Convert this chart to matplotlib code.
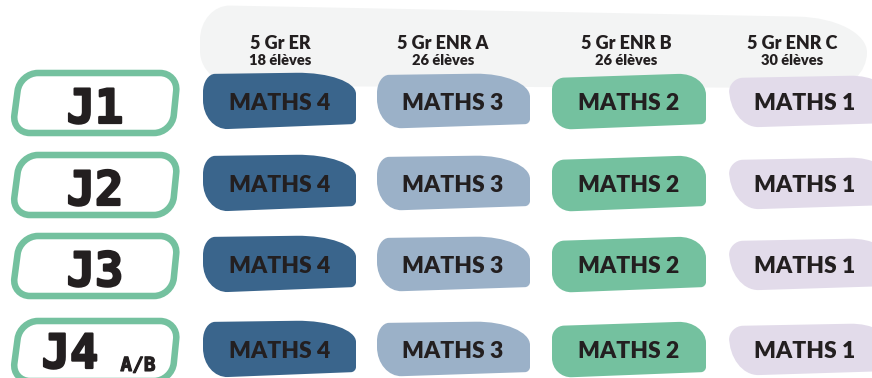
import numpy as np
import matplotlib.pyplot as plt
import matplotlib.patheffects as pe
from matplotlib.path import Path
from matplotlib.patches import PathPatch

# données du planning
jours = ['J1', 'J2', 'J3', 'J4']
jours_suffixe = ['', '', '', 'A/B']
groupes = ['5 Gr ER', '5 Gr ENR A', '5 Gr ENR B', '5 Gr ENR C']
effectifs = [18, 26, 26, 30]
cours = [
    ['MATHS 4', 'MATHS 3', 'MATHS 2', 'MATHS 1'],
    ['MATHS 4', 'MATHS 3', 'MATHS 2', 'MATHS 1'],
    ['MATHS 4', 'MATHS 3', 'MATHS 2', 'MATHS 1'],
    ['MATHS 4', 'MATHS 3', 'MATHS 2', 'MATHS 1'],
]
niveau_couleur = {'MATHS 4': '#3a658c', 'MATHS 3': '#9bb1c8',
                  'MATHS 2': '#74c19f', 'MATHS 1': '#e2dbea'}

# mise en page (pixels)
col_x = [280, 453, 629, 805]
head_x = [280, 443, 626, 792]
row_y = [101, 183, 264, 349]
texte = '#231f20'

# forme de chaque colonne : coins (dx, dy) et rayons (entrée, sortie)
formes = [
    ([(-77, -27), (76, -29), (76, 23), (-77, 29)], [(18, 12), (60, 22), (5, 5), (25, 30)]),
    ([(-76, -26), (77, -28), (77, 23), (-76, 28)], [(18, 12), (55, 24), (5, 5), (25, 30)]),
    ([(-77, -23), (77, -28), (77, 23), (-77, 29)], [(12, 12), (28, 22), (5, 5), (20, 20)]),
    ([(-76, -23), (85, -26), (85, 22), (-76, 27)], [(14, 14), (40, 22), (5, 5), (30, 40)]),
]


def forme_arrondie(coins, rayons):
    coins = [np.array(c, dtype=float) for c in coins]
    n = len(coins)
    verts, codes = [], []
    for i in range(n):
        p = coins[i]
        prev = coins[i - 1]
        nxt = coins[(i + 1) % n]
        ri, ro = rayons[i]
        a = p + (prev - p) / np.linalg.norm(prev - p) * ri
        b = p + (nxt - p) / np.linalg.norm(nxt - p) * ro
        verts.append(a)
        codes.append(Path.MOVETO if i == 0 else Path.LINETO)
        verts += [a + (p - a) * 0.55, b + (p - b) * 0.55, b]
        codes += [Path.CURVE4] * 3
    verts.append(verts[0])
    codes.append(Path.CLOSEPOLY)
    return Path(verts, codes)


fig = plt.figure(figsize=(8.72, 3.78), dpi=100)
ax = fig.add_axes([0, 0, 1, 1])
ax.set_xlim(0, 872)
ax.set_ylim(378, 0)
ax.axis('off')

# fond gris de l'en-tête
fond = forme_arrondie([(200, 5), (868, 18), (866, 88), (200, 86)],
                      [(35, 30), (70, 35), (35, 35), (40, 35)])
ax.add_patch(PathPatch(fond, facecolor='#f3f4f4', edgecolor='none', zorder=0))

for j, (g, n) in enumerate(zip(groupes, effectifs)):
    ax.text(head_x[j], 49, g, ha='center', va='baseline', fontsize=13,
            fontweight='heavy', family='Lato', color=texte)
    ax.text(head_x[j], 65, f'{n} élèves', ha='center', va='baseline',
            fontsize=10.5, fontweight='heavy', family='Lato', color=texte)

# cases des jours
epais = [pe.withStroke(linewidth=1.6, foreground=texte)]
for i, (jour, suf) in enumerate(zip(jours, jours_suffixe)):
    cy = row_y[i] + 2
    cadre = forme_arrondie([(20, cy - 30), (178, cy - 30), (172, cy + 30), (12, cy + 30)],
                           [(18, 18)] * 4)
    ax.add_patch(PathPatch(cadre, facecolor='white', edgecolor='#74c19f',
                           linewidth=4.7, zorder=2))
    if suf:
        ax.text(70, 378, jour, ha='center', va='bottom', fontsize=34,
                fontweight='bold', family='DejaVu Sans Mono', color=texte, zorder=3,
                path_effects=epais)
        ax.text(138, 371, suf, ha='center', va='baseline', fontsize=14,
                fontweight='bold', family='DejaVu Sans Mono', color=texte, zorder=3,
                path_effects=[pe.withStroke(linewidth=0.8, foreground=texte)])
    else:
        ax.text(95, cy + 20, jour, ha='center', va='baseline', fontsize=34,
                fontweight='bold', family='DejaVu Sans Mono', color=texte, zorder=3,
                path_effects=epais)

# cours
for i, ligne in enumerate(cours):
    for j, c in enumerate(ligne):
        coins, rayons = formes[j]
        pts = [(col_x[j] + dx, row_y[i] + dy) for dx, dy in coins]
        ax.add_patch(PathPatch(forme_arrondie(pts, rayons), facecolor=niveau_couleur[c],
                               edgecolor='none', zorder=2))
        ax.text(col_x[j], row_y[i] + 9, c, ha='center', va='baseline', fontsize=16.5,
                fontweight='heavy', family='Lato', color=texte, zorder=3)

fig.savefig('out.png', dpi=100)
